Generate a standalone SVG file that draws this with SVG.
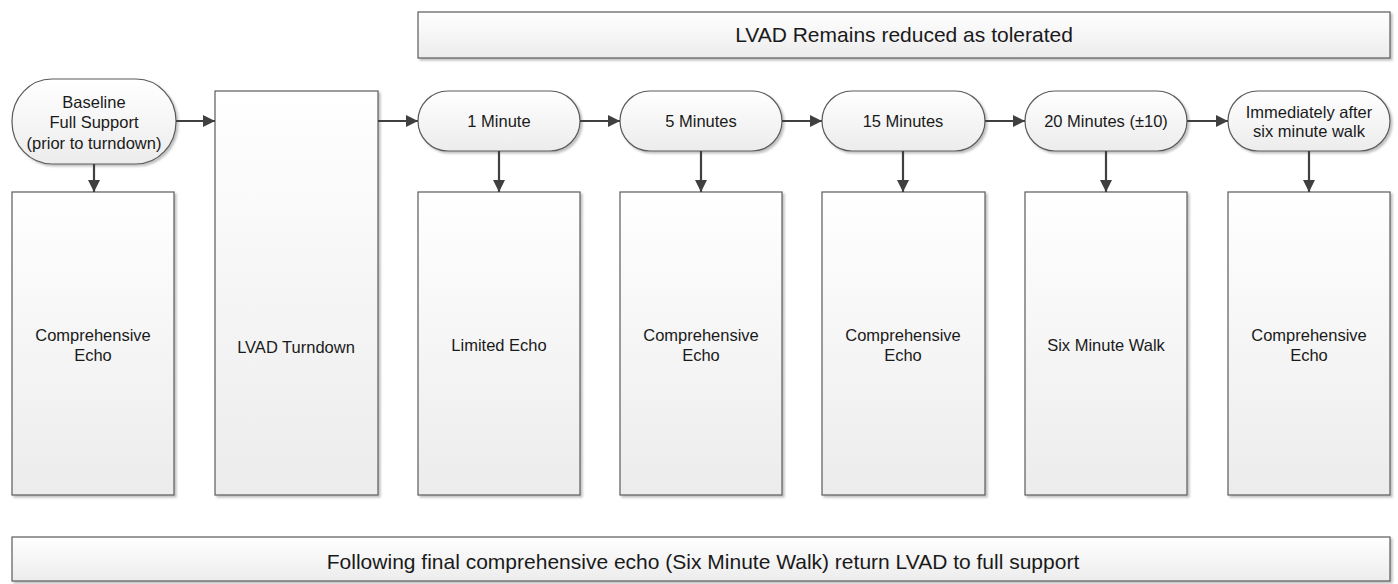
<svg xmlns="http://www.w3.org/2000/svg" width="1398" height="584" viewBox="0 0 1398 584">
<defs>
<linearGradient id="g" x1="0" y1="0" x2="0" y2="1">
<stop offset="0" stop-color="#ffffff"/>
<stop offset="1" stop-color="#ececec"/>
</linearGradient>
<filter id="sh" x="-10%" y="-10%" width="130%" height="130%">
<feDropShadow dx="2" dy="2" stdDeviation="1.2" flood-color="#000" flood-opacity="0.25"/>
</filter>
<marker id="ah" viewBox="0 0 12 12" refX="12" refY="6" markerWidth="12" markerHeight="12" markerUnits="userSpaceOnUse" orient="auto">
<path d="M0,0 L12,6 L0,12 z" fill="#404040"/>
</marker>
</defs>
<style>
.s{fill:url(#g);stroke:#5a5a5a;stroke-width:1.2;filter:url(#sh)}
.t{font-family:"Liberation Sans",Arial,sans-serif;font-size:16.5px;fill:#1a1a1a;text-anchor:middle}
.tb{font-family:"Liberation Sans",Arial,sans-serif;font-size:21px;fill:#1a1a1a;text-anchor:middle}
.c{stroke:#404040;stroke-width:2.2;fill:none;marker-end:url(#ah)}
</style>
<rect width="1398" height="584" fill="#ffffff"/>

<g id="top-banner"><rect class="s" x="418" y="12" width="972" height="46"/><text class="tb" x="904" y="42">LVAD Remains reduced as tolerated</text></g>

<g id="baseline"><rect class="s" x="12" y="79" width="164" height="85" rx="40" ry="42"/>
<text class="t" x="94" y="108">Baseline</text><text class="t" x="94" y="128">Full Support</text><text class="t" x="94" y="149">(prior to turndown)</text></g>
<g id="echo1"><rect class="s" x="12" y="192" width="162" height="303"/><text class="t" x="93" y="341">Comprehensive</text><text class="t" x="93" y="361">Echo</text></g>

<g id="turndown"><rect class="s" x="215" y="91" width="163" height="404"/><text class="t" x="296" y="353">LVAD Turndown</text></g>

<g id="min1"><rect class="s" x="418" y="91" width="162" height="60" rx="30"/><text class="t" x="499" y="127">1 Minute</text></g>
<g id="echo2"><rect class="s" x="418" y="192" width="162" height="303"/><text class="t" x="499" y="351">Limited Echo</text></g>

<g id="min5"><rect class="s" x="620" y="91" width="162" height="60" rx="30"/><text class="t" x="701" y="127">5 Minutes</text></g>
<g id="echo3"><rect class="s" x="620" y="192" width="162" height="303"/><text class="t" x="701" y="341">Comprehensive</text><text class="t" x="701" y="361">Echo</text></g>

<g id="min15"><rect class="s" x="822" y="91" width="163" height="60" rx="30"/><text class="t" x="903" y="127">15 Minutes</text></g>
<g id="echo4"><rect class="s" x="822" y="192" width="163" height="303"/><text class="t" x="903" y="341">Comprehensive</text><text class="t" x="903" y="361">Echo</text></g>

<g id="min20"><rect class="s" x="1025" y="91" width="162" height="60" rx="30"/><text class="t" x="1106" y="127">20 Minutes (±10)</text></g>
<g id="walk"><rect class="s" x="1025" y="192" width="162" height="303"/><text class="t" x="1106" y="351">Six Minute Walk</text></g>

<g id="after"><rect class="s" x="1228" y="91" width="162" height="60" rx="30"/><text class="t" x="1309" y="118">Immediately after</text><text class="t" x="1309" y="137">six minute walk</text></g>
<g id="echo5"><rect class="s" x="1228" y="192" width="162" height="303"/><text class="t" x="1309" y="341">Comprehensive</text><text class="t" x="1309" y="361">Echo</text></g>

<g id="bottom-banner"><rect class="s" x="12" y="537" width="1378" height="44"/><text class="tb" x="703" y="569">Following final comprehensive echo (Six Minute Walk) return LVAD to full support</text></g>

<g id="connectors">
<path class="c" d="M176,121 H215"/>
<path class="c" d="M378,121 H418"/>
<path class="c" d="M580,121 H620"/>
<path class="c" d="M782,121 H822"/>
<path class="c" d="M985,121 H1025"/>
<path class="c" d="M1187,121 H1228"/>
<path class="c" d="M94,164 V192"/>
<path class="c" d="M499,151 V192"/>
<path class="c" d="M701,151 V192"/>
<path class="c" d="M903,151 V192"/>
<path class="c" d="M1106,151 V192"/>
<path class="c" d="M1309,151 V192"/>
</g>
</svg>
